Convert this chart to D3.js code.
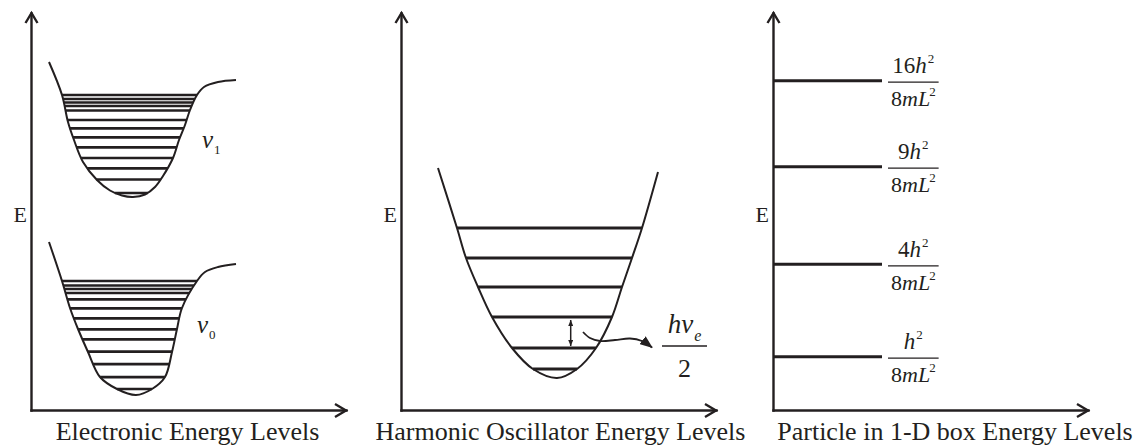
<!DOCTYPE html>
<html><head><meta charset="utf-8">
<script src="https://cdn.jsdelivr.net/npm/d3@7"></script>
<style>
html,body{margin:0;padding:0;background:#fff;}
svg{display:block;font-family:"Liberation Serif","Times New Roman",serif;}
</style></head><body>
<svg id="chart" width="1141" height="447"></svg>
<script>
// ================= DATA (panel units: r / E along each drawn axis) =================
const panelTitles = ["Electronic Energy Levels", "Harmonic Oscillator Energy Levels", "Particle in 1-D box Energy Levels"];
const axisLabel = "E";

// Electronic panel: two Morse-like wells, points [r, E]
const wellUpper = [[1.8,34.8],[3.1,31.5],[3.7,28.8],[4.3,27.0],[5.2,24.8],[6.6,23.0],[7.9,21.95],[9.1,21.45],[10.2,21.3],[11.4,21.55],[12.4,22.3],[13.2,23.4],[14.2,25.2],[14.8,27.0],[15.4,28.5],[15.9,30.0],[16.6,31.5],[17.3,32.3],[18.7,32.8],[20.5,33.0]];
const wellLower = [[1.8,16.8],[3.1,12.9],[3.9,10.2],[4.7,8.1],[5.7,5.8],[6.9,3.3],[8.6,2.1],[10.5,1.5],[12.1,2.1],[13.4,3.3],[14.1,5.8],[14.6,8.1],[15.1,10.2],[16.6,12.9],[17.4,13.8],[18.7,14.3],[20.5,14.6]];
const levelsUpper = [31.5,31.1,30.75,30.4,29.95,29.0,28.17,27.27,26.27,25.2,24.17,23.05,21.7];
const levelsLower = [12.9,12.45,12.1,11.7,11.07,10.17,9.17,8.07,7.07,5.83,4.58,3.28,2.1];
const wellLabels = [{main:"v", sub:"1", r:17.1, E:26.2}, {main:"v", sub:"0", r:16.6, E:7.7}];

// Harmonic oscillator panel
const parabola = [[3.7,24.2],[5.6,18.2],[6.5,15.2],[7.7,12.3],[9.1,9.3],[11.1,6.2],[13.2,4.1],[15.6,3.2],[17.6,4.1],[19.5,6.2],[21.1,9.3],[22.1,12.3],[23.1,15.2],[24.1,18.2],[25.7,23.8]];
const harmonicLevels = [18.2,15.2,12.3,9.3,6.2,4.1];
const spacingArrow = [[16.97,9.0],[16.97,6.4]];
const pointerArrow = [[18.2,7.8],[18.9,7.2],[19.9,6.9],[21.4,7.0],[22.9,7.15],[24.1,6.9],[25.1,6.25]];
const hoLabel = {num:"hv", sub:"e", den:"2", r:28.35, E:6.4};

// Particle in a box panel
const boxLevels = [5.33,14.57,24.33,32.93];
const boxCoef = ["", "4", "9", "16"];
const boxLevelLength = 10.9;

// ================= LAYOUT / STYLE =================
const ink = "#231f20";
const panelOrigins = [31, 401, 773];
const axisBottom = 410, axisTop = 13, axisLen = 315;
const unitsX = [0, 31.5], unitsY = [0, 39.7];
const titleX = [187.5, 560.5, 955], titleY = 440;
const labelE = 18.8;

const svg = d3.select("#chart");
const defs = svg.append("defs");
defs.append("marker").attr("id","headBig").attr("viewBox","0 0 13 10")
  .attr("refX",12).attr("refY",5).attr("markerWidth",13).attr("markerHeight",10)
  .attr("markerUnits","userSpaceOnUse").attr("orient","auto")
  .append("path").attr("d","M0,0L13,5L0,10Z").attr("fill",ink);
defs.append("marker").attr("id","headSmall").attr("viewBox","0 0 6 5")
  .attr("refX",6).attr("refY",2.5).attr("markerWidth",6).attr("markerHeight",5)
  .attr("markerUnits","userSpaceOnUse").attr("orient","auto-start-reverse")
  .append("path").attr("d","M0,0L6,2.5L0,5Z").attr("fill",ink);

function makeScales(ox){
  return {
    x: d3.scaleLinear().domain(unitsX).range([ox, ox + axisLen]),
    y: d3.scaleLinear().domain(unitsY).range([axisBottom, axisTop])
  };
}

function drawAxes(g, s, i){
  g.append("g").attr("transform",`translate(0,${axisBottom})`)
    .call(d3.axisBottom(s.x).tickValues([]).tickSizeOuter(0));
  g.append("g").attr("transform",`translate(${s.x.range()[0]},0)`)
    .call(d3.axisLeft(s.y).tickValues([]).tickSizeOuter(0));
  g.selectAll(".domain").attr("stroke",ink).attr("stroke-width",2.4).attr("stroke-linecap","square");
  const [x0,x1] = s.x.range(), [y0,y1] = s.y.range();
  g.append("path").attr("d",`M${x1-11},${y0+0.5-6.5}L${x1},${y0+0.5}L${x1-11},${y0+0.5+6.5}`)
    .attr("fill","none").attr("stroke",ink).attr("stroke-width",2.4);
  g.append("path").attr("d",`M${x0+0.5-6},${y1+10}L${x0+0.5},${y1}L${x0+0.5+6},${y1+10}`)
    .attr("fill","none").attr("stroke",ink).attr("stroke-width",2.4);
  g.append("text").attr("x",x0-4).attr("y",s.y(labelE)).attr("text-anchor","end")
    .attr("font-size",22).attr("fill",ink).text(axisLabel);
  g.append("text").attr("x",titleX[i]).attr("y",titleY).attr("text-anchor","middle")
    .attr("font-size",26).attr("fill",ink).text(panelTitles[i]);
}

function curveLine(s){
  return d3.line().x(d=>s.x(d[0])).y(d=>s.y(d[1])).curve(d3.curveCatmullRom.alpha(0.5));
}

// find where a horizontal line at pixel y meets the two walls of a drawn well
function wallCrossings(node, py){
  const L = node.getTotalLength();
  const pts = d3.range(0, L, 0.25).map(l => node.getPointAtLength(l));
  const iMin = d3.maxIndex(pts, p => p.y);
  let xl = pts[0].x, xr = pts[pts.length-1].x;
  for (let i=1;i<=iMin;i++){ const a=pts[i-1], b=pts[i];
    if (a.y<=py && b.y>=py){ xl = a.x + (b.x-a.x)*((py-a.y)/((b.y-a.y)||1)); break; } }
  for (let i=iMin+1;i<pts.length;i++){ const a=pts[i-1], b=pts[i];
    if (a.y>=py && b.y<=py){ xr = a.x + (b.x-a.x)*((a.y-py)/((a.y-b.y)||1)); break; } }
  return [xl, xr];
}

function drawWell(g, s, pts, levels, lw){
  const path = g.append("path").attr("d", curveLine(s)(pts))
    .attr("fill","none").attr("stroke",ink).attr("stroke-width",2);
  const node = path.node();
  g.selectAll(null).data(levels).join("line")
    .each(function(E){
      const py = s.y(E); const [xl,xr] = wallCrossings(node, py);
      d3.select(this).attr("x1",xl).attr("x2",xr).attr("y1",py).attr("y2",py);
    })
    .attr("stroke",ink).attr("stroke-width",lw);
}

// ---------------- Panel 1: electronic ----------------
{
  const s = makeScales(panelOrigins[0]);
  const g = svg.append("g");
  drawAxes(g, s, 0);
  drawWell(g, s, wellUpper, levelsUpper, 2.7);
  drawWell(g, s, wellLower, levelsLower, 2.7);
  wellLabels.forEach(l=>{
    const t = g.append("text").attr("x",s.x(l.r)).attr("y",s.y(l.E)).attr("fill",ink);
    t.append("tspan").attr("font-size",25).attr("font-style","italic").text(l.main);
    t.append("tspan").attr("font-size",13).attr("dy",6).attr("dx",1).text(l.sub);
  });
}

// ---------------- Panel 2: harmonic oscillator ----------------
{
  const s = makeScales(panelOrigins[1]);
  const g = svg.append("g");
  drawAxes(g, s, 1);
  drawWell(g, s, parabola, harmonicLevels, 3);
  g.append("path").attr("d", d3.line().x(d=>s.x(d[0])).y(d=>s.y(d[1]))(spacingArrow))
    .attr("stroke",ink).attr("stroke-width",1.5).attr("fill","none")
    .attr("marker-start","url(#headSmall)").attr("marker-end","url(#headSmall)");
  g.append("path").attr("d", d3.line().x(d=>s.x(d[0])).y(d=>s.y(d[1])).curve(d3.curveCatmullRom.alpha(0.5))(pointerArrow))
    .attr("stroke",ink).attr("stroke-width",1.8).attr("fill","none")
    .attr("marker-end","url(#headBig)");
  const cx = s.x(hoLabel.r), ly = s.y(hoLabel.E);
  const num = g.append("text").attr("x",cx).attr("y",ly-13).attr("text-anchor","middle").attr("fill",ink);
  num.append("tspan").attr("font-size",27).attr("font-style","italic").text(hoLabel.num);
  num.append("tspan").attr("font-size",16).attr("font-style","italic").attr("dy",8).attr("dx",1).text(hoLabel.sub);
  g.append("text").attr("x",cx).attr("y",ly+31).attr("text-anchor","middle").attr("fill",ink)
    .attr("font-size",26).text(hoLabel.den);
  g.append("line").attr("x1",cx-22.5).attr("x2",cx+22.5).attr("y1",ly).attr("y2",ly)
    .attr("stroke",ink).attr("stroke-width",1.3);
}

// ---------------- Panel 3: particle in a box ----------------
{
  const s = makeScales(panelOrigins[2]);
  const g = svg.append("g");
  drawAxes(g, s, 2);
  g.selectAll(null).data(boxLevels).join("line")
    .attr("x1",s.x(0)).attr("x2",s.x(boxLevelLength))
    .attr("y1",d=>s.y(d)).attr("y2",d=>s.y(d))
    .attr("stroke",ink).attr("stroke-width",3);
  const fx0 = s.x(boxLevelLength) + 6;
  boxLevels.forEach((E,i)=>{
    const ly = s.y(E) + 1.5;
    const fg = g.append("g");
    const num = fg.append("text").attr("y",ly-9).attr("text-anchor","middle").attr("fill",ink).attr("font-size",23);
    if (boxCoef[i]) num.append("tspan").text(boxCoef[i]);
    num.append("tspan").attr("font-style","italic").text("h");
    num.append("tspan").attr("font-size",13).attr("dy",-10).attr("dx",1).text("2");
    const den = fg.append("text").attr("y",ly+24).attr("text-anchor","middle").attr("fill",ink).attr("font-size",22);
    den.append("tspan").text("8");
    den.append("tspan").attr("font-style","italic").text("mL");
    den.append("tspan").attr("font-size",13).attr("dy",-10).attr("dx",-1).text("2");
    const w = Math.max(num.node().getComputedTextLength(), den.node().getComputedTextLength()) + 5;
    const cx = fx0 + w/2;
    num.attr("x",cx); den.attr("x",cx);
    fg.append("line").attr("x1",fx0).attr("x2",fx0+w).attr("y1",ly).attr("y2",ly)
      .attr("stroke",ink).attr("stroke-width",1.3);
  });
}
</script>
</body></html>
